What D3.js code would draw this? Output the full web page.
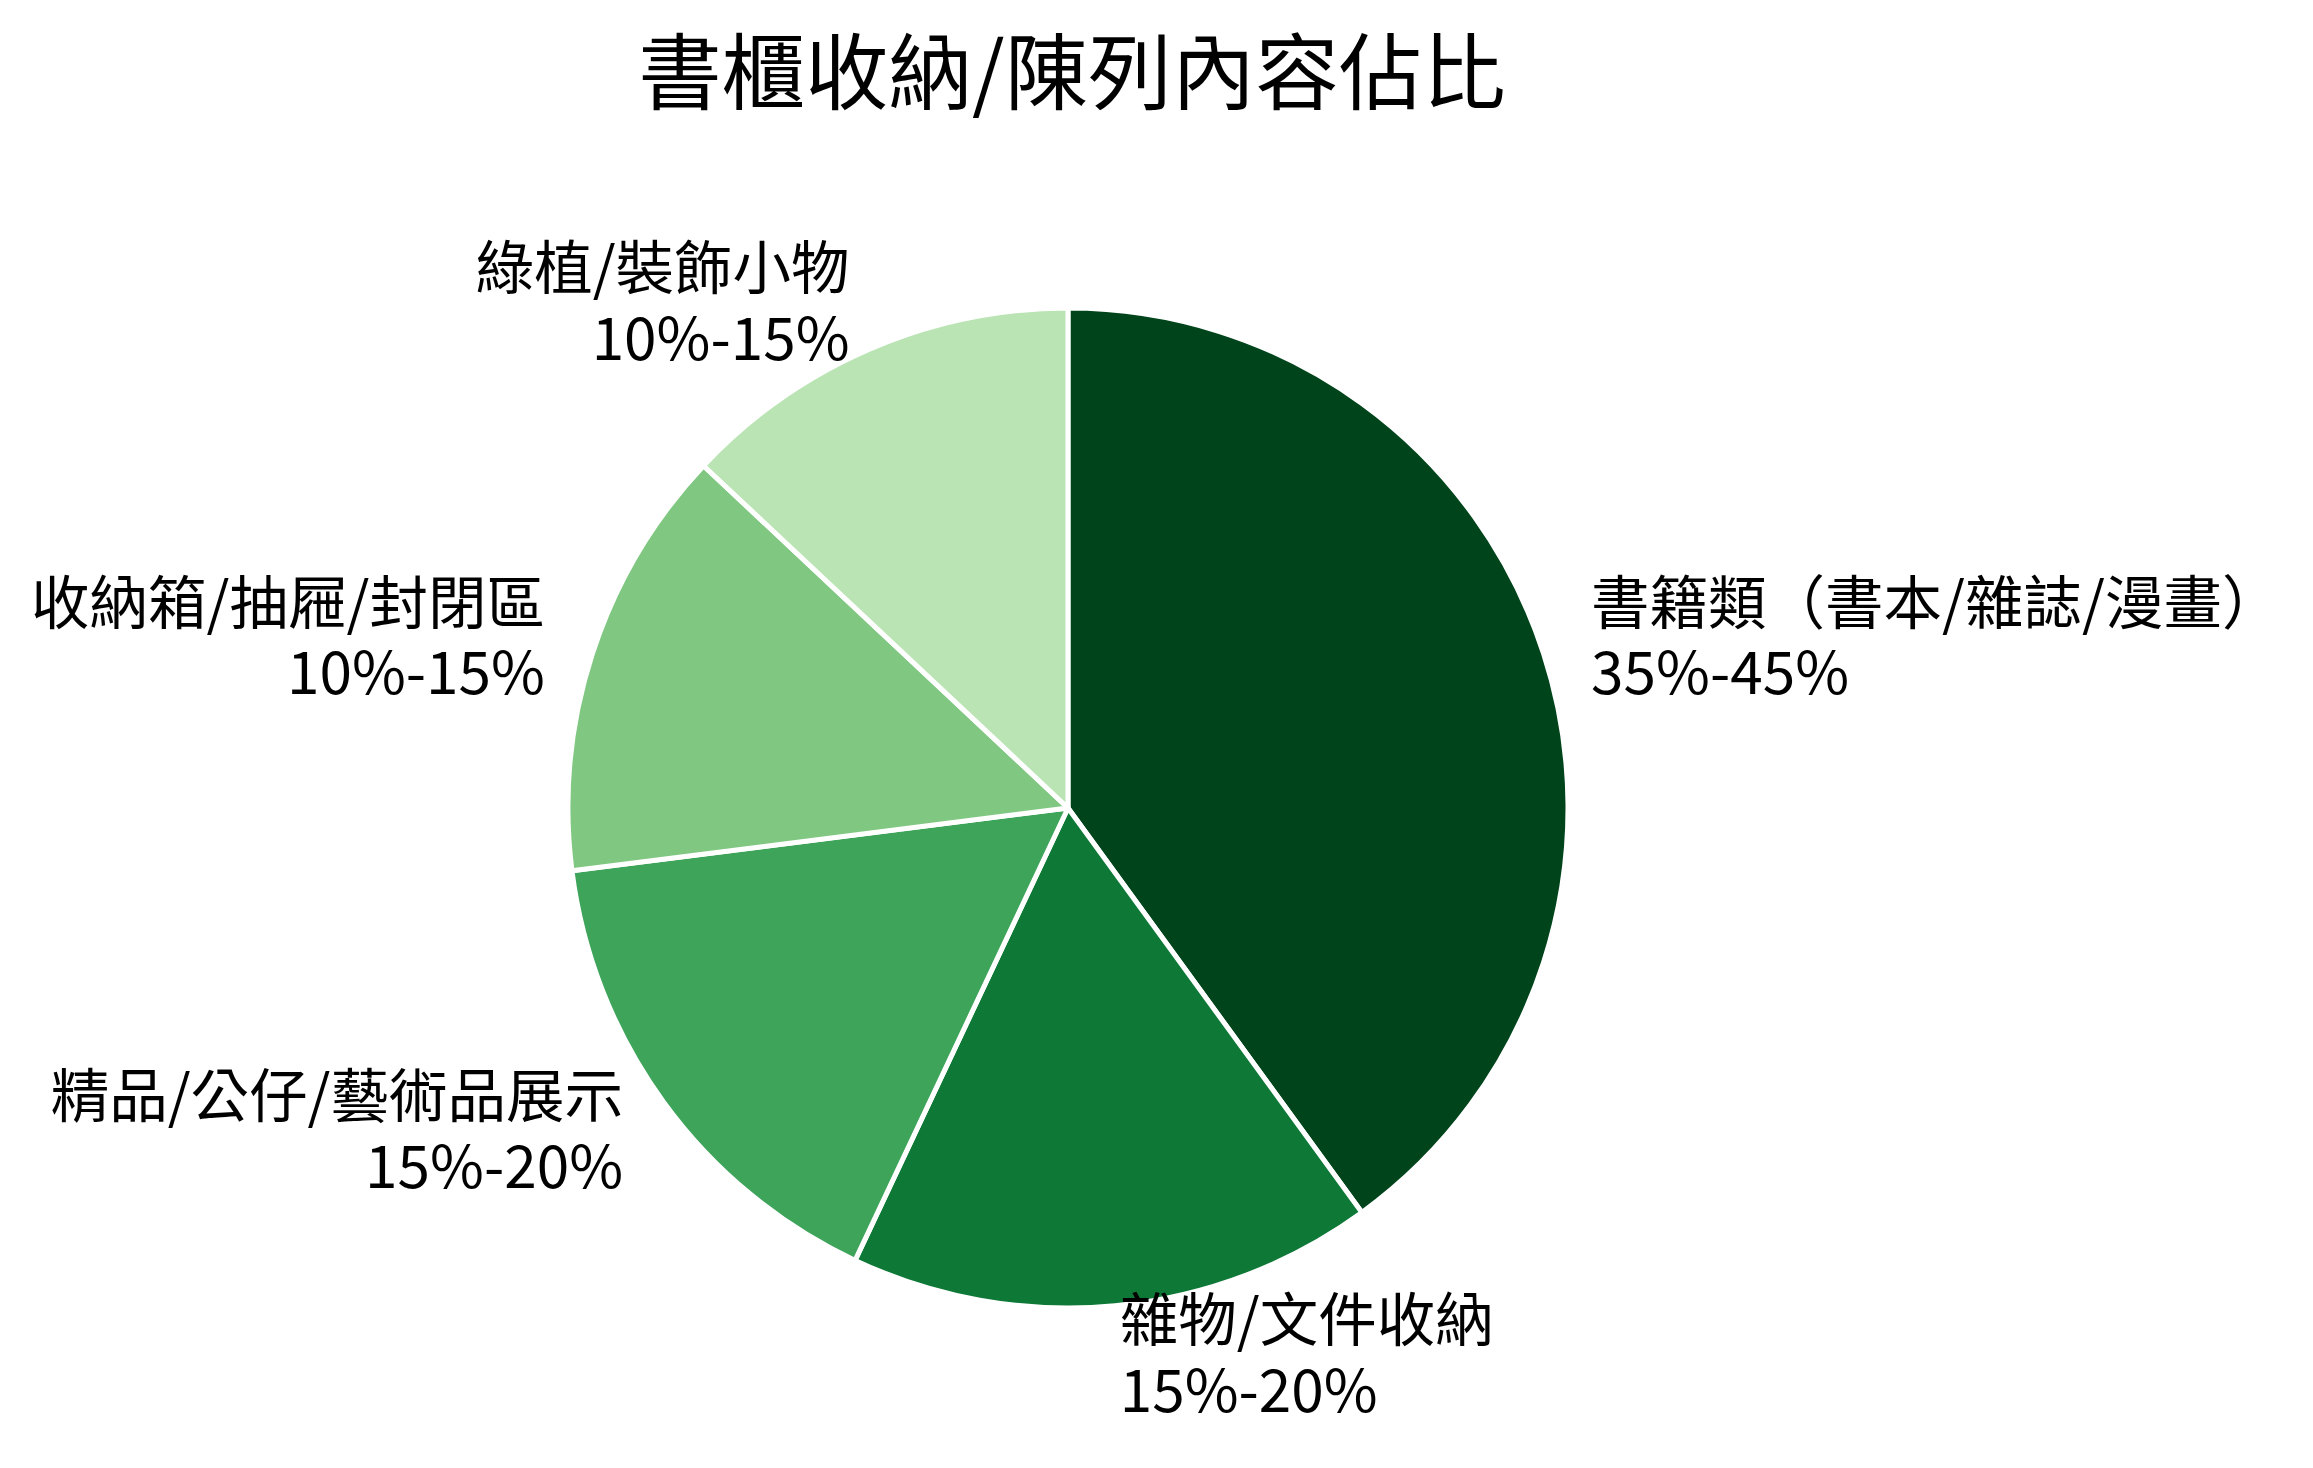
<!DOCTYPE html>
<html><head><meta charset="utf-8">
<script src="https://cdn.jsdelivr.net/npm/d3@7"></script>
<style>html,body{margin:0;padding:0;background:#fff;}</style>
</head><body>
<svg id="chart" width="2313" height="1468"></svg>
<script>
const title = "書櫃收納/陳列內容佔比";
const categories = ["書籍類（書本/雜誌/漫畫）","雜物/文件收納","精品/公仔/藝術品展示","收納箱/抽屜/封閉區","綠植/裝飾小物"];
const ranges = ["35%-45%","15%-20%","15%-20%","10%-15%","10%-15%"];
const values = [40, 17, 16, 14, 13];
const colors = ["#00441b","#0e7837","#3da45a","#80c882","#bae4b4"];

const W = 2313, H = 1468;
const cx = 1068, cy = 808, R = 500;
const fontFam = "'Noto Sans CJK TC','Noto Sans CJK SC',sans-serif";
const svg = d3.select("#chart");

svg.append("text").attr("x", cx + 4).attr("y", 66).attr("text-anchor","middle")
  .attr("dominant-baseline","central")
  .attr("font-family", fontFam).attr("font-size", 83.5).attr("fill","#000").text(title);

const data = categories.map((c,i)=>({cat:c, range:ranges[i], value:values[i], color:colors[i]}));
const pie = d3.pie().sort(null).value(d=>d.value);
const arc = d3.arc().innerRadius(0).outerRadius(R);
const arcs = pie(data);
const g = svg.append("g").attr("transform",`translate(${cx},${cy})`);
g.selectAll("path").data(arcs).join("path")
  .attr("d", arc).attr("fill", d=>d.data.color)
  .attr("stroke","#fff").attr("stroke-width",5).attr("stroke-linejoin","round");

const F = 58.5, LH = 70.5;
const labelR = R*1.1;
arcs.forEach(a=>{
  const mid = (a.startAngle + a.endAngle)/2;
  const x = labelR*Math.sin(mid), y = -labelR*Math.cos(mid);
  const lines = [a.data.cat, a.data.range];
  lines.forEach((ln,i)=>{
    g.append("text").attr("font-family", fontFam).attr("font-size", F)
     .attr("fill","#000").attr("text-anchor", x >= 0 ? "start" : "end")
     .attr("x", x)
     .attr("y", y + (i - (lines.length-1)/2)*LH + F*0.36)
     .text(ln);
  });
});
</script>
</body></html>
